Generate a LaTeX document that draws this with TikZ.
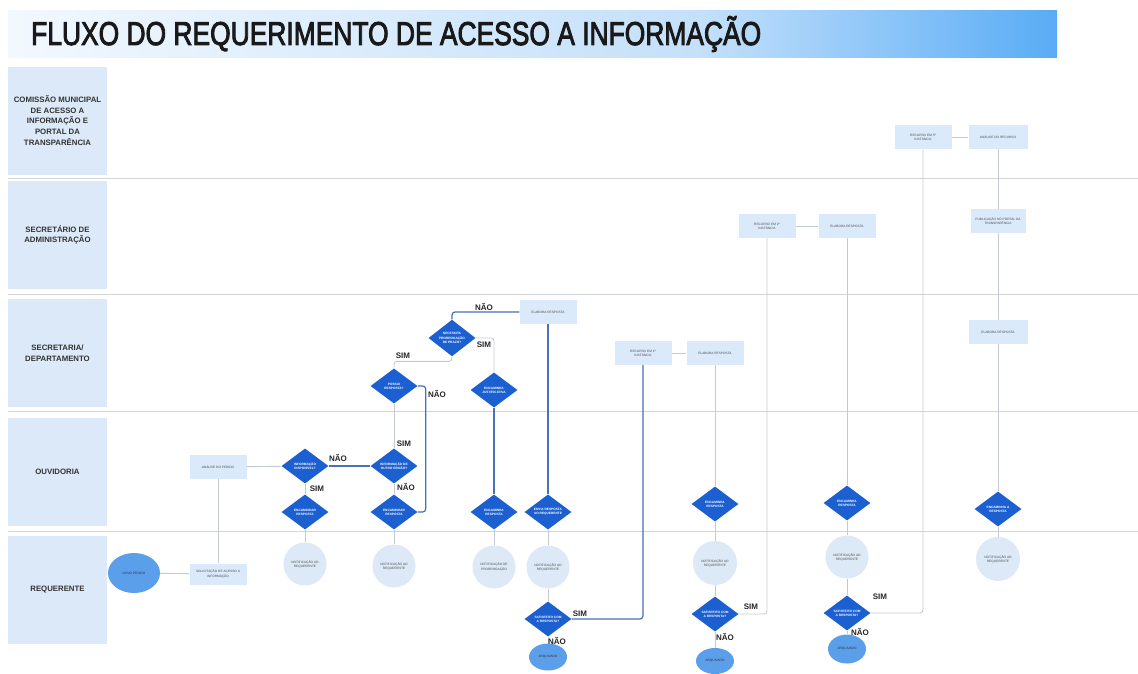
\documentclass[tikz,border=0pt]{standalone}
\usepackage{fontspec}
\setmainfont{Liberation Sans}
\newfontfamily\titlefont[FakeBold=3]{Liberation Sans}
\usetikzlibrary{shapes.geometric}
\definecolor{lanefill}{HTML}{DCE9F8}
\definecolor{boxfill}{HTML}{DBEAFA}
\definecolor{decfill}{HTML}{1B5FD1}
\definecolor{circfill}{HTML}{DDE9F7}
\definecolor{termfill}{HTML}{5B9FEA}
\definecolor{bluelinec}{HTML}{4A70B8}
\definecolor{graylinec}{HTML}{C5CAD2}
\definecolor{sepc}{HTML}{D2D4D8}
\definecolor{titleL}{HTML}{F2F8FE}
\definecolor{titleM}{HTML}{C4E0FB}
\definecolor{titleR}{HTML}{58ACF5}
\begin{document}
\begin{tikzpicture}[x=1pt,y=-1pt,
  lanebox/.style={rectangle, fill=lanefill, minimum width=99pt, minimum height=108pt, inner sep=0pt, align=center, font=\fontsize{7.8}{10.6}\selectfont\bfseries, text=black!80},
  procbox/.style={rectangle, fill=boxfill, minimum width=57pt, minimum height=24pt, inner sep=1pt, align=center, font=\fontsize{3.2}{4.2}\selectfont, text=black!70},
  decision/.style={diamond, fill=decfill, minimum width=47pt, minimum height=35pt, inner sep=0pt, align=center, font=\fontsize{3.2}{4.2}\selectfont\bfseries, text=white},
  notif/.style={circle, fill=circfill, minimum size=43pt, inner sep=0pt, align=center, font=\fontsize{3.2}{4.2}\selectfont, text=black!70},
  term/.style={ellipse, fill=termfill, minimum width=38pt, minimum height=27pt, inner sep=0pt, align=center, font=\fontsize{3.2}{4.2}\selectfont, text=black!80},
  blueline/.style={draw=bluelinec, line width=1.2pt, rounded corners=3pt},
  grayline/.style={draw=graylinec, line width=0.9pt, rounded corners=3pt},
  sepline/.style={draw=sepc, line width=0.9pt},
  yn/.style={font=\fontsize{8}{9}\selectfont\bfseries, text=black!85, inner sep=0pt}]
\useasboundingbox (0,0) rectangle (1138,673);
\fill[white] (0,0) rectangle (1138,673);

% title
\shade[left color=titleL, right color=titleM] (8,10) rectangle (700,57);
\shade[left color=titleM, right color=titleR] (699.5,10) rectangle (1057,57);
\node[anchor=west, inner sep=0pt, font=\titlefont\fontsize{33}{36}\selectfont, text=black!90] (title) at (31,34) {\scalebox{0.8}[1]{FLUXO DO REQUERIMENTO DE ACESSO A INFORMAÇÃO}};

% lane separators
\draw[sepline] (8,178) -- (1138,178);
\draw[sepline] (8,294) -- (1138,294);
\draw[sepline] (8,411) -- (1138,411);
\draw[sepline] (8,531) -- (1138,531);

% lane labels
\node[lanebox] (L1) at (57.5,120.5) {COMISSÃO MUNICIPAL\\DE ACESSO A\\INFORMAÇÃO E\\PORTAL DA\\TRANSPARÊNCIA};
\node[lanebox] (L2) at (57.5,235) {SECRETÁRIO DE\\ADMINISTRAÇÃO};
\node[lanebox] (L3) at (57.5,353) {SECRETARIA/\\DEPARTAMENTO};
\node[lanebox] (L4) at (57.5,472) {OUVIDORIA};
\node[lanebox] (L5) at (57.5,590) {REQUERENTE};

% requerente start
\node[term, minimum width=52pt, minimum height=40pt] (E0) at (134,573) {NOVO PEDIDO};
\node[procbox, minimum height=21pt] (Bsol) at (218,574) {SOLICITAÇÃO DE ACESSO A\\INFORMAÇÃO};
\node[procbox] (Banal) at (218,467) {ANÁLISE DO PEDIDO};

% ouvidoria decisions
\node[decision] (D1) at (305,466) {INFORMAÇÃO\\DISPONÍVEL?};
\node[decision] (D2) at (305,512) {ENCAMINHAR\\RESPOSTA};
\node[notif] (C1) at (305,564) {NOTIFICAÇÃO AO\\REQUERENTE};
\node[decision] (D3) at (394,466) {INFORMAÇÃO DE\\OUTRO ÓRGÃO?};
\node[decision] (D4) at (394,512) {ENCAMINHAR\\RESPOSTA};
\node[notif] (C2) at (394,566) {NOTIFICAÇÃO AO\\REQUERENTE};

% secretaria
\node[decision] (D5) at (394,386) {POSSUI\\RESPOSTA?};
\node[decision] (D6) at (452,338) {NECESSITA\\PRORROGAÇÃO\\DE PRAZO?};
\node[decision] (D7) at (494,390) {ENCAMINHA\\JUSTIFICATIVA};
\node[procbox] (Bresp) at (548,312) {ELABORA RESPOSTA};
\node[decision] (D8) at (494,512) {ENCAMINHA\\RESPOSTA};
\node[decision] (D9) at (548,512) {ENVIA RESPOSTA\\AO REQUERENTE};
\node[notif] (C3) at (494,567) {NOTIFICAÇÃO DE\\PRORROGAÇÃO};
\node[notif] (C4) at (548,567) {NOTIFICAÇÃO AO\\REQUERENTE};
\node[decision] (D10) at (548,619) {SATISFEITO COM\\A RESPOSTA?};
\node[term] (E1) at (548,657) {ARQUIVADO};

% recurso 1
\node[procbox] (Brec1) at (643,353) {RECURSO EM 1ª\\INSTÂNCIA};
\node[procbox] (Belab1) at (715,353) {ELABORA RESPOSTA};
\node[decision] (D11) at (715,504) {ENCAMINHA\\RESPOSTA};
\node[notif, minimum size=44pt] (C5) at (715,563) {NOTIFICAÇÃO AO\\REQUERENTE};
\node[decision] (D12) at (715,614) {SATISFEITO COM\\A RESPOSTA?};
\node[term, minimum height=26pt] (E2) at (715,661) {ARQUIVADO};

% recurso 2
\node[procbox] (Brec2) at (767,226) {RECURSO EM 2ª\\INSTÂNCIA};
\node[procbox] (Belab2) at (847,226) {ELABORA RESPOSTA};
\node[decision] (D13) at (847,503) {ENCAMINHA\\RESPOSTA};
\node[notif] (C6) at (847,557) {NOTIFICAÇÃO AO\\REQUERENTE};
\node[decision] (D14) at (847,613) {SATISFEITO COM\\A RESPOSTA?};
\node[term, minimum height=29pt] (E3) at (847,649) {ARQUIVADO};

% recurso 3
\node[procbox] (Brec3) at (923,137) {RECURSO EM 3ª\\INSTÂNCIA};
\node[procbox, minimum width=59pt] (Btop2) at (998,137) {ANÁLISE DO RECURSO};
\node[procbox, minimum width=55pt] (Bpub) at (998,221) {PUBLICAÇÃO NO PORTAL DA\\TRANSPARÊNCIA};
\node[procbox, minimum width=59pt] (Bclass) at (998,332) {ELABORA RESPOSTA};
\node[decision] (D15) at (998,509) {ENCAMINHA A\\RESPOSTA};
\node[notif, minimum size=44pt] (C7) at (998,559) {NOTIFICAÇÃO AO\\REQUERENTE};

% connectors
\draw[grayline] (E0) -- (Bsol);
\draw[grayline] (Bsol) -- (Banal);
\draw[grayline] (Banal) -- (D1);
\draw[blueline] (D1) -- (D3);
\draw[grayline] (D1) -- (D2);
\draw[grayline] (D2) -- (C1);
\draw[grayline] (D3) -- (D4);
\draw[grayline] (D4) -- (C2);
\draw[blueline] (D4.east) -- ++(8,0) |- (D5.east);
\draw[grayline] (D5) -- (D3);
\draw[grayline] (D5.north) -- ++(0,-7) -| (D6.south);
\draw[blueline] (D6.north) |- (Bresp.west);
\draw[grayline] (D6.east) -| (D7.north);
\draw[blueline] (D7) -- (D8);
\draw[blueline] (Bresp) -- (D9);
\draw[grayline] (D8) -- (C3);
\draw[grayline] (D9) -- (C4);
\draw[grayline] (C4) -- (D10);
\draw[blueline] (D10.east) -| (Brec1.south);
\draw[grayline] (D10) -- (E1);
\draw[grayline] (Brec1) -- (Belab1);
\draw[grayline] (Belab1) -- (D11);
\draw[grayline] (D11) -- (C5);
\draw[grayline] (C5) -- (D12);
\draw[grayline] (D12.east) -| (Brec2.south);
\draw[grayline] (D12) -- (E2);
\draw[grayline] (Brec2) -- (Belab2);
\draw[grayline] (Belab2) -- (D13);
\draw[grayline] (D13) -- (C6);
\draw[grayline] (C6) -- (D14);
\draw[grayline] (D14.east) -| (Brec3.south);
\draw[grayline] (D14) -- (E3);
\draw[grayline] (Brec3) -- (Btop2);
\draw[grayline] (Btop2) -- (Bpub);
\draw[grayline] (Bpub) -- (Bclass);
\draw[grayline] (Bclass) -- (D15);
\draw[grayline] (D15) -- (C7);

% yes/no labels
\node[yn] (n1) at (338,458) {NÃO};
\node[yn] (s1) at (317,489) {SIM};
\node[yn] (s2) at (404,444) {SIM};
\node[yn] (n2) at (406,487) {NÃO};
\node[yn] (n3) at (437,394) {NÃO};
\node[yn] (s3) at (403,356) {SIM};
\node[yn] (n4) at (484,307) {NÃO};
\node[yn] (s4) at (484,345) {SIM};
\node[yn] (s5) at (580,614) {SIM};
\node[yn] (n5) at (557,641) {NÃO};
\node[yn] (s6) at (751,607) {SIM};
\node[yn] (n6) at (725,637) {NÃO};
\node[yn] (s7) at (880,597) {SIM};
\node[yn] (n7) at (860,632) {NÃO};
\end{tikzpicture}
\end{document}
